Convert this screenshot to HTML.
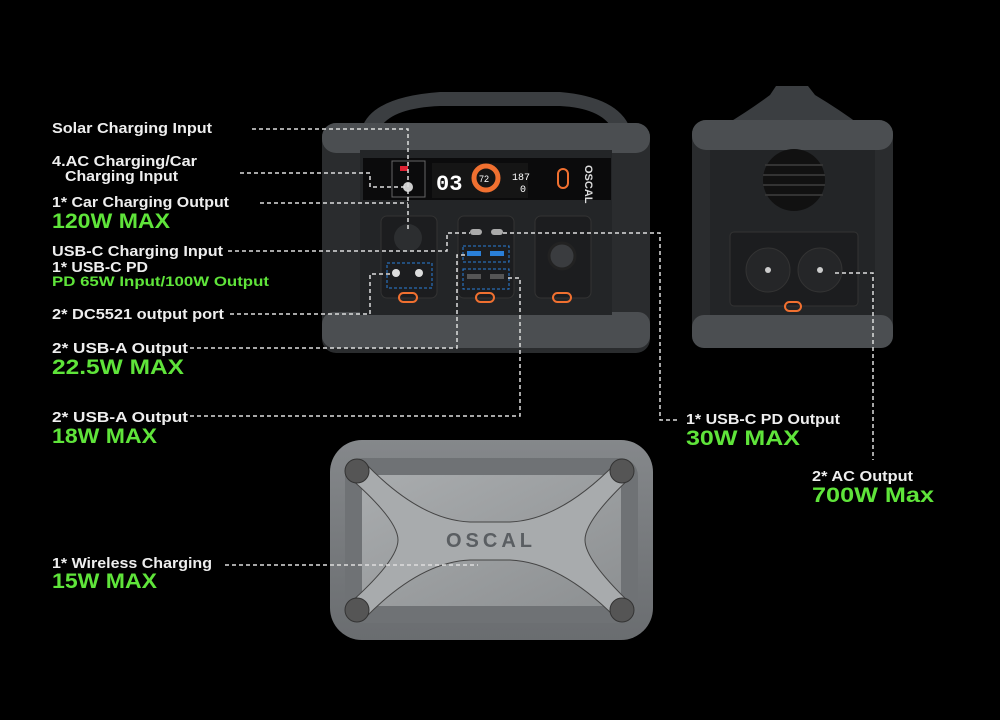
<!DOCTYPE html>
<html><head><meta charset="utf-8"><style>
html,body{margin:0;padding:0;background:#000;}
svg{display:block}
.w{fill:#eee;font-family:"Liberation Sans",sans-serif;font-weight:bold;font-size:14.5px}
.g{fill:#5fe43a;font-family:"Liberation Sans",sans-serif;font-weight:bold;font-size:21px}
.gs{fill:#5fe43a;font-family:"Liberation Sans",sans-serif;font-weight:bold;font-size:14px}
.d{stroke:#ddd;stroke-width:1.5;stroke-dasharray:4 3;fill:none}
</style></head><body>
<svg width="1000" height="720" viewBox="0 0 1000 720">
<defs>
<linearGradient id="lid" x1="0" y1="0" x2="0" y2="1"><stop offset="0" stop-color="#85888b"/><stop offset="1" stop-color="#6a6d70"/></linearGradient>
<linearGradient id="lidin" x1="0" y1="0" x2="1" y2="1"><stop offset="0" stop-color="#a9acae"/><stop offset="1" stop-color="#8d9092"/></linearGradient>
</defs>
<rect width="1000" height="720" fill="#000"/>

<!-- Left unit -->
<path d="M362 128 Q372 97 440 92 L560 92 Q618 97 630 128 L612 128 Q600 108 560 106 L440 106 Q392 108 380 128 Z" fill="#3b3e41"/>
<rect x="322" y="123" width="328" height="230" rx="14" fill="#2a2c2e"/>
<rect x="322" y="123" width="328" height="30" rx="14" fill="#4b4e51"/>
<rect x="322" y="312" width="328" height="36" rx="12" fill="#4b4e51"/>
<rect x="360" y="150" width="252" height="165" fill="#232527"/>
<rect x="363" y="158" width="248" height="42" fill="#0b0b0c"/>
<rect x="392" y="161" width="33" height="36" fill="none" stroke="#666" stroke-width="1"/>
<rect x="400" y="166" width="8" height="5" fill="#d23"/>
<circle cx="408" cy="187" r="5" fill="#ccc"/>
<rect x="432" y="163" width="96" height="35" fill="#151515"/>
<text x="436" y="190" fill="#fff" font-family="Liberation Mono,monospace" font-size="22" font-weight="bold">03</text>
<circle cx="486" cy="178" r="12" fill="none" stroke="#f07030" stroke-width="5"/>
<text x="479" y="182" fill="#fff" font-family="Liberation Sans,sans-serif" font-size="9">72</text>
<text x="512" y="180" fill="#fff" font-family="Liberation Mono,monospace" font-size="10">187</text>
<text x="520" y="192" fill="#fff" font-family="Liberation Mono,monospace" font-size="10">0</text>
<rect x="558" y="169" width="10" height="19" rx="5" fill="none" stroke="#f07030" stroke-width="2"/>
<text x="585" y="165" fill="#ddd" font-family="Liberation Sans,sans-serif" font-size="11" font-weight="bold" transform="rotate(90 585 165)">OSCAL</text>
<rect x="381" y="216" width="56" height="82" rx="6" fill="#1c1d1f" stroke="#333"/>
<circle cx="408" cy="238" r="14" fill="#2c2e30"/>
<rect x="387" y="263" width="45" height="25" fill="none" stroke="#2a7fd8" stroke-dasharray="3 2"/>
<circle cx="396" cy="273" r="4" fill="#ddd"/><circle cx="419" cy="273" r="4" fill="#ddd"/>
<rect x="458" y="216" width="56" height="82" rx="6" fill="#1c1d1f" stroke="#333"/>
<rect x="463" y="246" width="46" height="16" fill="none" stroke="#2a7fd8" stroke-dasharray="3 2"/>
<rect x="463" y="269" width="46" height="20" fill="none" stroke="#2a7fd8" stroke-dasharray="3 2"/>
<rect x="467" y="251" width="14" height="5" fill="#2a7fd8"/><rect x="490" y="251" width="14" height="5" fill="#2a7fd8"/>
<rect x="467" y="274" width="14" height="5" fill="#555"/><rect x="490" y="274" width="14" height="5" fill="#555"/>
<rect x="470" y="229" width="12" height="6" rx="3" fill="#aaa"/><rect x="491" y="229" width="12" height="6" rx="3" fill="#aaa"/>
<rect x="535" y="216" width="56" height="82" rx="6" fill="#1c1d1f" stroke="#333"/>
<circle cx="562" cy="256" r="13" fill="#3a3c3f" stroke="#222" stroke-width="3"/>
<rect x="399" y="293" width="18" height="9" rx="4.5" fill="none" stroke="#f07030" stroke-width="2"/>
<rect x="476" y="293" width="18" height="9" rx="4.5" fill="none" stroke="#f07030" stroke-width="2"/>
<rect x="553" y="293" width="18" height="9" rx="4.5" fill="none" stroke="#f07030" stroke-width="2"/>

<!-- Right unit -->
<path d="M776 86 L808 86 L815 95 Q840 110 860 125 L725 125 Q750 110 770 95 Z" fill="#3b3e41"/>
<rect x="692" y="120" width="201" height="228" rx="14" fill="#2a2c2e"/>
<rect x="692" y="120" width="201" height="30" rx="14" fill="#4b4e51"/>
<rect x="692" y="315" width="201" height="33" rx="12" fill="#4b4e51"/>
<rect x="710" y="150" width="165" height="165" fill="#232527"/>
<circle cx="794" cy="180" r="31" fill="#111"/>
<g stroke="#333" stroke-width="2"><line x1="765" y1="165" x2="823" y2="165"/><line x1="763" y1="175" x2="825" y2="175"/><line x1="763" y1="185" x2="825" y2="185"/><line x1="765" y1="195" x2="823" y2="195"/></g>
<rect x="730" y="232" width="128" height="74" rx="4" fill="#1c1d1f" stroke="#333"/>
<circle cx="768" cy="270" r="22" fill="#252628" stroke="#333"/>
<circle cx="820" cy="270" r="22" fill="#252628" stroke="#333"/>
<circle cx="768" cy="270" r="3" fill="#ccc"/><circle cx="820" cy="270" r="3" fill="#ccc"/>
<rect x="785" y="302" width="16" height="9" rx="4.5" fill="none" stroke="#f07030" stroke-width="2"/>

<!-- Lid -->
<rect x="330" y="440" width="323" height="200" rx="32" fill="url(#lid)"/>
<rect x="345" y="458" width="293" height="165" rx="18" fill="#6f7275"/>
<rect x="362" y="475" width="259" height="131" rx="6" fill="url(#lidin)"/>
<path d="M350 478 L366 464 Q420 520 470 522 L510 522 Q560 520 615 464 L630 478 Q585 520 585 540 Q585 560 630 603 L615 617 Q560 562 510 560 L470 560 Q420 562 366 617 L350 603 Q398 560 398 540 Q398 520 350 478 Z" fill="#a8abad" stroke="#444" stroke-width="1"/>
<circle cx="357" cy="471" r="12" fill="#555" stroke="#333"/>
<circle cx="622" cy="471" r="12" fill="#555" stroke="#333"/>
<circle cx="357" cy="610" r="12" fill="#555" stroke="#333"/>
<circle cx="622" cy="610" r="12" fill="#555" stroke="#333"/>
<text x="489" y="547" text-anchor="middle" fill="#5a5e62" font-family="Liberation Sans,sans-serif" font-weight="bold" font-size="20" textLength="86">OSCAL</text>

<!-- Connectors -->
<polyline class="d" points="252,129 408,129 408,232"/>
<polyline class="d" points="240,173 370,173 370,187 405,187"/>
<polyline class="d" points="260,203 408,203"/>
<polyline class="d" points="228,251 447,251 447,233 470,233"/>
<polyline class="d" points="230,314 370,314 370,274 392,274"/>
<polyline class="d" points="190,348 457,348 457,255 466,255"/>
<polyline class="d" points="190,416 520,416 520,278 508,278"/>
<polyline class="d" points="503,233 660,233 660,420 680,420"/>
<polyline class="d" points="835,273 873,273 873,460"/>
<polyline class="d" points="225,565 478,565"/>

<!-- Labels -->
<g lengthAdjust="spacingAndGlyphs">
<text class="w" x="52" y="133" textLength="160" lengthAdjust="spacingAndGlyphs">Solar Charging Input</text>
<text class="w" x="52" y="166" textLength="145" lengthAdjust="spacingAndGlyphs">4.AC Charging/Car</text>
<text class="w" x="65" y="181" textLength="113" lengthAdjust="spacingAndGlyphs">Charging Input</text>
<text class="w" x="52" y="207" textLength="177" lengthAdjust="spacingAndGlyphs">1* Car Charging Output</text>
<text class="g" x="52" y="228" textLength="118" lengthAdjust="spacingAndGlyphs">120W MAX</text>
<text class="w" x="52" y="256" textLength="171" lengthAdjust="spacingAndGlyphs">USB-C Charging Input</text>
<text class="w" x="52" y="272" textLength="96" lengthAdjust="spacingAndGlyphs">1* USB-C PD</text>
<text class="gs" x="52" y="286" textLength="217" lengthAdjust="spacingAndGlyphs">PD 65W Input/100W Output</text>
<text class="w" x="52" y="319" textLength="172" lengthAdjust="spacingAndGlyphs">2* DC5521 output port</text>
<text class="w" x="52" y="353" textLength="136" lengthAdjust="spacingAndGlyphs">2* USB-A  Output</text>
<text class="g" x="52" y="374" textLength="132" lengthAdjust="spacingAndGlyphs">22.5W MAX</text>
<text class="w" x="52" y="422" textLength="136" lengthAdjust="spacingAndGlyphs">2* USB-A  Output</text>
<text class="g" x="52" y="443" textLength="105" lengthAdjust="spacingAndGlyphs">18W MAX</text>
<text class="w" x="686" y="424" textLength="154" lengthAdjust="spacingAndGlyphs">1* USB-C PD Output</text>
<text class="g" x="686" y="445" textLength="114" lengthAdjust="spacingAndGlyphs">30W MAX</text>
<text class="w" x="812" y="481" textLength="101" lengthAdjust="spacingAndGlyphs">2* AC Output</text>
<text class="g" x="812" y="502" textLength="122" lengthAdjust="spacingAndGlyphs">700W Max</text>
<text class="w" x="52" y="568" textLength="160" lengthAdjust="spacingAndGlyphs">1* Wireless Charging</text>
<text class="g" x="52" y="588" textLength="105" lengthAdjust="spacingAndGlyphs">15W MAX</text>
</g>
</svg>
</body></html>
